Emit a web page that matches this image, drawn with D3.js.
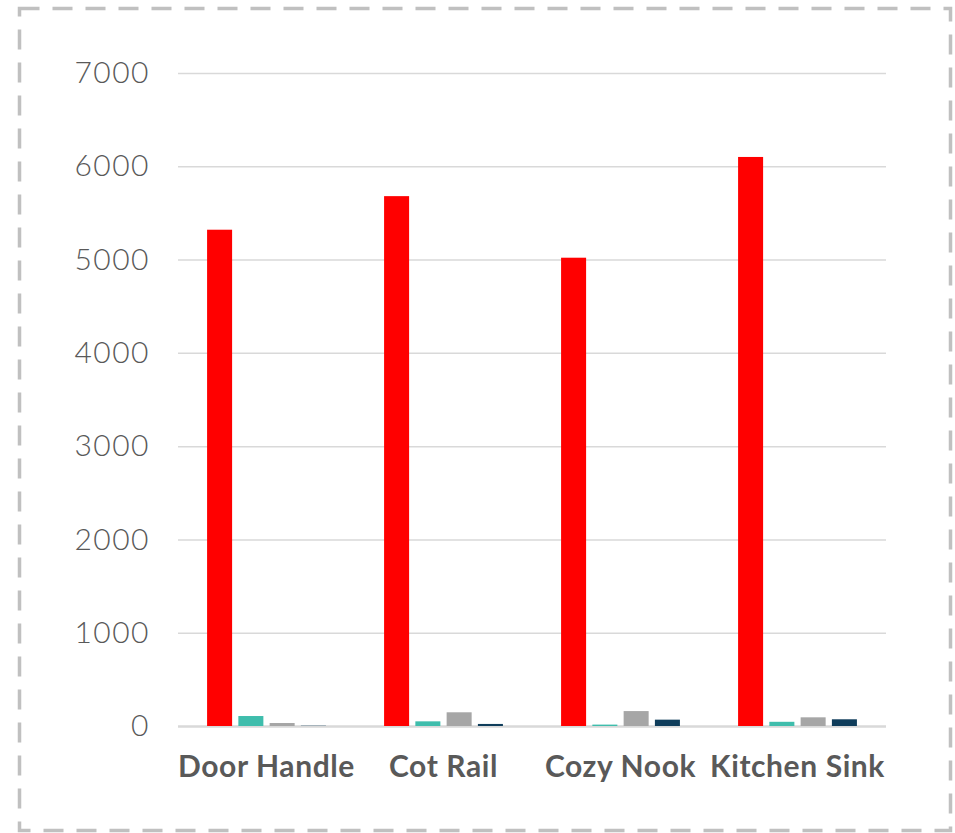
<!DOCTYPE html>
<html>
<head>
<meta charset="utf-8">
<script src="https://cdn.jsdelivr.net/npm/d3@7"></script>
<style>
  html, body { margin: 0; padding: 0; background: #fff; }
  svg { display: block; }
</style>
</head>
<body>
<svg id="chart" width="955" height="833"></svg>
<script>
// Chart data
const categories = ["Door Handle", "Cot Rail", "Cozy Nook", "Kitchen Sink"];
const seriesNames = ["Series 1", "Series 2", "Series 3", "Series 4"];
const series1 = [5320, 5680, 5020, 6100];
const series2 = [107, 50, 15, 45];
const series3 = [32, 147, 160, 93];
const series4 = [3, 22, 68, 72];
const yTicks = [0, 1000, 2000, 3000, 4000, 5000, 6000, 7000];
const colors = ["#ff0000", "#3fbdac", "#a6a6a6", "#0f3d5b"];

const seriesValues = [series1, series2, series3, series4];
const rows = categories.map((c, i) => ({
  category: c,
  values: seriesNames.map((s, j) => ({ series: s, value: seriesValues[j][i] }))
}));

const svg = d3.select("#chart");
const margin = { left: 178, right: 69, top: 73, bottom: 107 };
const W = 955, H = 833;

const x0 = d3.scaleBand()
  .domain(categories)
  .range([margin.left, W - margin.right])
  .paddingInner(0)
  .paddingOuter(0);

const x1 = d3.scaleBand()
  .domain(seriesNames)
  .range([0, x0.bandwidth()])
  .paddingInner(0.2)
  .paddingOuter(0.93);

const y = d3.scaleLinear()
  .domain([0, 7000])
  .range([H - margin.bottom, margin.top]);

// Dashed outer frame
svg.append("rect")
  .attr("x", 19.5).attr("y", 8.5)
  .attr("width", 931).attr("height", 822)
  .attr("fill", "none")
  .attr("stroke", "#c0c0c0")
  .attr("stroke-width", 3.5)
  .attr("stroke-dasharray", "20 13");

// Horizontal gridlines and tick labels
const yAxis = d3.axisLeft(y)
  .tickValues(yTicks)
  .tickSize(-(W - margin.left - margin.right))
  .tickPadding(28)
  .tickFormat(d3.format("d"));

const gy = svg.append("g")
  .attr("transform", `translate(${margin.left},0)`)
  .call(yAxis);
gy.select(".domain").remove();
gy.selectAll(".tick line")
  .attr("stroke", "#d9d9d9")
  .attr("stroke-width", d => d === 0 ? 2.5 : 1.5);
gy.selectAll(".tick text")
  .attr("fill", "#595959")
  .style("font-family", "Lato, 'Open Sans', sans-serif")
  .style("font-weight", "300")
  .style("font-size", "30px")
  .style("letter-spacing", "1.5px");

// Bars
const groups = svg.append("g")
  .selectAll("g")
  .data(rows)
  .join("g")
  .attr("transform", d => `translate(${x0(d.category)},0)`);

groups.selectAll("rect")
  .data(d => d.values)
  .join("rect")
  .attr("x", d => x1(d.series))
  .attr("width", x1.bandwidth())
  .attr("y", d => y(d.value))
  .attr("height", d => y(0) - y(d.value))
  .attr("fill", (d, i) => colors[i]);

// Category axis
const xAxis = d3.axisBottom(x0).tickSize(0).tickPadding(30);
const gx = svg.append("g")
  .attr("transform", `translate(0,${y(0)})`)
  .call(xAxis);
gx.select(".domain").remove();
gx.selectAll(".tick text")
  .attr("fill", "#595959")
  .style("font-family", "Lato, 'Open Sans', sans-serif")
  .style("font-weight", "bold")
  .style("font-size", "30px")
  .style("letter-spacing", "0.6px");
</script>
</body>
</html>
